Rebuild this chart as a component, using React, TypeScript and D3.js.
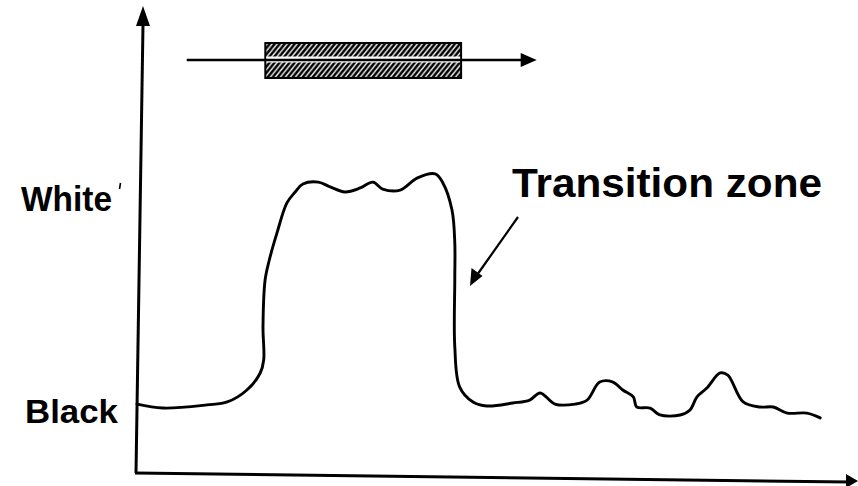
import React from "react";
import * as d3 from "d3";

// Scan profile: position along the scan line (0-100) vs. reflected intensity (0 = Black, 100 = White)
const positions = [
  0, 3.7, 10, 12.9, 15.7, 17.6, 18.1, 18.0, 18.3, 18.9, 20, 21.4, 22.6, 23.7, 25.9, 27.6, 29.7, 31.9,
  33.7, 35.1, 37.6, 40, 42.6, 43.7, 45, 45.4, 45.4, 45.4, 46.1, 48, 50, 53.7, 56.1, 57.6, 59.7, 62.6,
  64.3, 66.1, 68, 69.4, 70.9, 71.4, 73.3, 74.7, 77.6, 79, 80, 81.4, 83.3, 84.4, 86.6, 89, 90.9, 92.9,
  95.7, 97.6,
];
const intensity = [
  1.4, -0.5, 1, 2.4, 8.1, 16.2, 22.4, 38.1, 60.5, 70, 82.9, 97.1, 102.4, 106.2, 107.1, 104.8, 102.4,
  104.3, 107.1, 103.8, 103.3, 109, 111, 106.7, 93.8, 78.1, 61.4, 28.6, 9.5, 2.4, 0.5, 1.9, 3.3, 6.7,
  1.4, 1.4, 3.3, 11.9, 11.9, 8.1, 4.8, 0, -0.5, -3.8, -3.8, -1.4, 4.8, 9, 16.2, 15.2, 2.4, 0, 0,
  -2.9, -2.9, -5.2,
];
const levelLabels = ["Black", "White"];
const levelValues = [0, 100];
const annotationText = "Transition zone";
// Scanned window (in scan-position units) shown as hatched bar, and scan arrow extent
const windowRange = [18.9, 46.3];
const scanRange = [7.1, 57.1];

const W = 858;
const H = 486;
const FONT = "'Liberation Sans', Arial, Helvetica, sans-serif";

export default function App() {
  const x = d3.scaleLinear().domain([0, 100]).range([137, 837]);
  const y = d3.scaleLinear().domain([0, 100]).range([407, 197]);

  const pts: [number, number][] = positions.map((p, i) => [x(p), y(intensity[i])]);
  const line = d3
    .line<[number, number]>()
    .x((d) => d[0])
    .y((d) => d[1])
    .curve(d3.curveCatmullRom.alpha(0.5));

  // axes (slightly skewed like the scanned original)
  const yAxisBottom = [x(0) - 1, 473];
  const yAxisTop = [x(0) + 6, 24];
  const xAxisEnd = [849, 482];

  const barY = 60;
  const rx0 = x(windowRange[0]) - 4;
  const rx1 = x(windowRange[1]);
  const sx0 = x(scanRange[0]);
  const sx1 = x(scanRange[1]);

  const labelX = [25, 21];
  const labelBase = [423, 211];
  const labelLen = [93, 91];

  return (
    <div style={{ position: "absolute", left: 0, top: 0 }}>
      <svg width={W} height={H} viewBox={`0 0 ${W} ${H}`} style={{ display: "block", background: "#fff" }}>
        <defs>
          <pattern id="hatch" patternUnits="userSpaceOnUse" width="5.5" height="5.5" patternTransform="rotate(-6)">
            <path d="M-1,1 l2,-2 M0,5.5 l5.5,-5.5 M4.5,6.5 l2,-2" stroke="#000" strokeWidth={2.5} />
          </pattern>
        </defs>
        <rect x={0} y={0} width={W} height={H} fill="#fff" />

        {/* axes */}
        <line x1={yAxisBottom[0]} y1={yAxisBottom[1]} x2={yAxisTop[0]} y2={yAxisTop[1]} stroke="#000" strokeWidth={3} />
        <path d={`M${yAxisTop[0]},6 L${yAxisTop[0] - 7},26 L${yAxisTop[0] + 7},26 Z`} fill="#000" />
        <line x1={yAxisBottom[0] - 1} y1={yAxisBottom[1]} x2={xAxisEnd[0]} y2={xAxisEnd[1]} stroke="#000" strokeWidth={3} />
        <path d={`M858,481 L846,474 L846,488 Z`} fill="#000" />

        {/* scan bar */}
        <rect x={rx0} y={43} width={rx1 - rx0} height={35} fill="url(#hatch)" stroke="#000" strokeWidth={2} />
        <rect x={rx0 + 1} y={56.5} width={rx1 - rx0 - 2} height={6} fill="#fff" />
        <line x1={sx0} y1={barY} x2={sx1 - 12} y2={barY} stroke="#000" strokeWidth={2.4} />
        <path d={`M${sx1},${barY} L${sx1 - 16},${barY - 7} L${sx1 - 16},${barY + 7} Z`} fill="#000" />

        {/* profile */}
        <path d={line(pts) || ""} fill="none" stroke="#000" strokeWidth={2.9} strokeLinejoin="round" strokeLinecap="round" />

        {/* level labels */}
        {levelLabels.map((t, i) => (
          <text
            key={t}
            x={labelX[i]}
            y={labelBase[i]}
            fontFamily={FONT}
            fontWeight="bold"
            fontSize={levelValues[i] === 0 ? 33 : 35}
            textLength={labelLen[i]}
            lengthAdjust="spacingAndGlyphs"
            fill="#000"
          >
            {t}
          </text>
        ))}
        <line x1={120.5} y1={183} x2={119.5} y2={189} stroke="#000" strokeWidth={1.6} />

        {/* annotation */}
        <text x={512} y={197} fontFamily={FONT} fontWeight="bold" fontSize={41} textLength={310} lengthAdjust="spacingAndGlyphs" fill="#000">
          {annotationText}
        </text>
        <line x1={518} y1={217} x2={477} y2={275} stroke="#000" strokeWidth={2.2} />
        <path d="M470,286 L471.5,268 L482.5,276 Z" fill="#000" />
      </svg>
    </div>
  );
}
